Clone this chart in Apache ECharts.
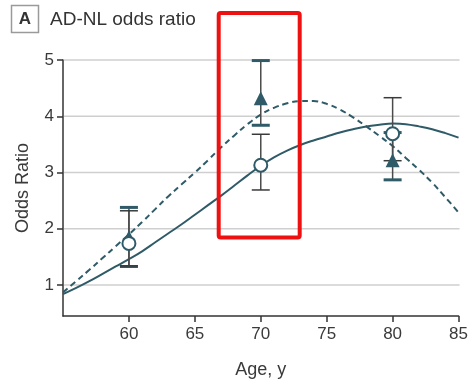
<!DOCTYPE html>
<html><head><meta charset="utf-8">
<script src="https://cdn.jsdelivr.net/npm/echarts@6/dist/echarts.min.js"></script>
<style>html,body{margin:0;padding:0;background:#fff}#c{width:471px;height:384px}</style>
</head><body><div id="c"></div>
<script>
// Fitted curves (age in years -> odds ratio)
const fitAges   = [55,56,57,58,59,60,61,62,63,64,65,66,67,68,69,70,71,72,73,74,75,76,77,78,79,80,81,82,83,84,85];
const solidFit  = [0.84,0.95,1.07,1.20,1.33,1.46,1.60,1.76,1.92,2.08,2.25,2.42,2.59,2.77,2.95,3.12,3.27,3.39,3.49,3.57,3.64,3.71,3.77,3.82,3.85,3.87,3.86,3.82,3.77,3.70,3.62];
const dashedFit = [0.87,1.07,1.27,1.48,1.69,1.90,2.12,2.35,2.58,2.79,3.00,3.22,3.45,3.66,3.86,4.03,4.15,4.23,4.27,4.27,4.22,4.12,3.98,3.82,3.65,3.47,3.26,3.05,2.82,2.56,2.29];
// Point estimates with confidence intervals
const pointAges = [60,70,80];
const circleOR  = [1.74,3.13,3.69];
const circleLo  = [1.34,2.69,3.21];
const circleHi  = [2.32,3.68,4.33];
const triOR     = [1.85,4.32,3.22];
const triLo     = [1.33,3.84,2.87];
const triHi     = [2.38,4.99,3.71];
// Ticks
const xTicks = [60,65,70,75,80,85];
const yTicks = [1,2,3,4,5];

const TEAL = '#2f5b68';
const FONT = 'Liberation Sans';
const TXT = '#3a3a3a';
const GRIDC = '#cfcfcf';

function zip(a,b){return a.map((v,i)=>[v,b[i]]);}
function errRender(capColor, capWidth){
  return function(params, api){
    const x = api.value(0), lo = api.value(1), hi = api.value(2);
    const pLo = api.coord([x, lo]), pHi = api.coord([x, hi]);
    const hw = 9;
    return {type:'group', children:[
      {type:'line', shape:{x1:pLo[0],y1:pLo[1],x2:pHi[0],y2:pHi[1]}, style:{stroke:'#4a4a4a',lineWidth:1.5}},
      {type:'line', shape:{x1:pHi[0]-hw,y1:pHi[1],x2:pHi[0]+hw,y2:pHi[1]}, style:{stroke:capColor,lineWidth:capWidth}},
      {type:'line', shape:{x1:pLo[0]-hw,y1:pLo[1],x2:pLo[0]+hw,y2:pLo[1]}, style:{stroke:capColor,lineWidth:capWidth}}
    ]};
  };
}

const baseGraphic = [
  {type:'rect', shape:{x:11.5,y:5.5,width:27,height:27}, style:{fill:'#fff',stroke:'#9a9a9a',lineWidth:1.5}},
  {type:'text', x:25, y:19.5, style:{text:'A', fontFamily:FONT, fontWeight:'bold', fontSize:17, fill:'#333', align:'center', verticalAlign:'middle'}},
  {type:'text', x:50, y:19.5, style:{text:'AD-NL odds ratio', fontFamily:FONT, fontSize:19, fill:'#333', align:'left', verticalAlign:'middle'}},
  {type:'rect', z:100, shape:{x:218.7,y:13,width:81,height:224.5,r:2}, style:{fill:'none',stroke:'#ee1111',lineWidth:4}}
];

const chart = echarts.init(document.getElementById('c'), null, {renderer:'canvas'});
chart.setOption({
  animation:false,
  backgroundColor:'#fff',
  textStyle:{fontFamily:FONT},
  grid:{left:63,right:12,top:60,bottom:67,containLabel:false},
  xAxis:{
    type:'value', min:55, max:85,
    name:'Age, y', nameLocation:'middle', nameGap:45,
    nameTextStyle:{fontFamily:FONT,fontSize:18,color:TXT},
    axisLine:{show:true,onZero:false,lineStyle:{color:'#333',width:1.5}},
    axisTick:{show:true,customValues:xTicks,length:6,lineStyle:{color:'#333',width:1.5}},
    axisLabel:{customValues:xTicks,margin:10,fontFamily:FONT,fontSize:17,color:TXT},
    splitLine:{show:false}
  },
  yAxis:{
    type:'value', min:0.45, max:5,
    name:'Odds Ratio', nameLocation:'middle', nameGap:31,
    nameTextStyle:{fontFamily:FONT,fontSize:18,color:TXT},
    axisLine:{show:true,onZero:false,lineStyle:{color:'#333',width:1.5}},
    axisTick:{show:true,customValues:yTicks,length:6,lineStyle:{color:'#333',width:1.5}},
    axisLabel:{customValues:yTicks,margin:9,fontFamily:FONT,fontSize:17,color:TXT},
    splitLine:{show:false}
  },
  series:[
    {type:'line', data:zip(fitAges, solidFit), smooth:0.4, showSymbol:false, z:2,
     lineStyle:{color:TEAL,width:2}},
    {type:'line', data:zip(fitAges, dashedFit), smooth:0.4, showSymbol:false, z:2,
     lineStyle:{color:TEAL,width:2,type:[6,4]}},
    {type:'custom', z:3, renderItem:errRender(TEAL,3),
     encode:{x:0,y:[1,2]}, data:pointAges.map((a,i)=>[a,triLo[i],triHi[i]])},
    {type:'custom', z:3, renderItem:errRender('#3a3a3a',1.5),
     encode:{x:0,y:[1,2]}, data:pointAges.map((a,i)=>[a,circleLo[i],circleHi[i]])},
    {type:'scatter', z:4, symbol:'triangle', symbolSize:14,
     itemStyle:{color:TEAL,opacity:1}, data:zip(pointAges, triOR)},
    {type:'scatter', z:5, symbol:'circle', symbolSize:13,
     itemStyle:{color:'#ffffff',borderColor:TEAL,borderWidth:2,opacity:1}, data:zip(pointAges, circleOR)}
  ],
  graphic: baseGraphic
});

// Horizontal gridlines at the y tick values, positioned through the axis scales
const gridLines = yTicks.map(v => {
  const a = chart.convertToPixel({gridIndex:0}, [55, v]);
  const b = chart.convertToPixel({gridIndex:0}, [85, v]);
  return {type:'line', z:0, silent:true,
          shape:{x1:a[0]+1, y1:a[1], x2:b[0]+1, y2:b[1]},
          style:{stroke:GRIDC, lineWidth:1.5}};
});
chart.setOption({graphic: baseGraphic.concat(gridLines)});
</script></body></html>
